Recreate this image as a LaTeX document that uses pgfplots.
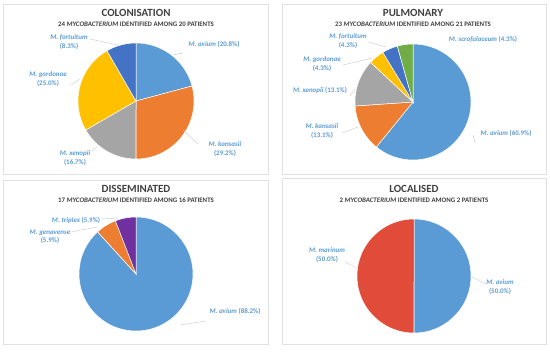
\documentclass[border=0pt]{standalone}
\usepackage{pgfplots}
\pgfplotsset{compat=1.18}
\usepackage{fontspec}
\setmainfont{Carlito}
\definecolor{cBlue}{HTML}{5B9BD5}
\definecolor{cOrange}{HTML}{ED7D31}
\definecolor{cGray}{HTML}{A5A5A5}
\definecolor{cGold}{HTML}{FFC000}
\definecolor{cDBlue}{HTML}{4472C4}
\definecolor{cGreen}{HTML}{70AD47}
\definecolor{cPurple}{HTML}{7030A0}
\definecolor{cRed}{HTML}{E04B3A}
\definecolor{cLab}{HTML}{5B9BD5}
\definecolor{cTitle}{HTML}{404040}
\definecolor{cFrame}{HTML}{E0E0E0}
% slice: center x, center y, radius, end angle, start angle, colour
\newcommand{\slice}[6]{%
  \addplot[fill=#6, draw=white, line width=0.5bp, domain=#4:#5, samples=80, variable=\t]
    ({#1+#3*cos(t)},{#2+#3*sin(t)}) -- (axis cs:#1,#2) -- cycle;}
\tikzset{lab/.style={font=\fontsize{7}{8.5}\selectfont\bfseries, text=cLab, align=center, inner sep=0pt},
  ttl/.style={font=\fontsize{11}{12}\selectfont\bfseries, text=cTitle, inner sep=0pt},
  sub/.style={font=\fontsize{6.9}{8}\selectfont\bfseries, text=cTitle, inner sep=0pt},
  lead/.style={draw=gray!45, line width=0.4bp}}
\begin{document}
\begin{tikzpicture}
\useasboundingbox (0,0) rectangle (550bp,352bp);
\begin{axis}[at={(0,0)}, anchor=south west, x=1bp, y=1bp, scale only axis,
  xmin=0, xmax=550, ymin=0, ymax=352, hide axis, clip=false]
% frames
\draw[cFrame, line width=0.6bp] (axis cs:3,178) rectangle (axis cs:268,348);
\draw[cFrame, line width=0.6bp] (axis cs:282,178) rectangle (axis cs:546,348);
\draw[cFrame, line width=0.6bp] (axis cs:3,8) rectangle (axis cs:268,172);
\draw[cFrame, line width=0.6bp] (axis cs:282,8) rectangle (axis cs:546,174);

% ---- COLONISATION: 24 isolates: avium 5, kansasii 7, xenopii 4, gordonae 6, fortuitum 2
\slice{136}{251}{58}{15}{90}{cBlue}
\slice{136}{251}{58}{-90}{15}{cOrange}
\slice{136}{251}{58}{-150}{-90}{cGray}
\slice{136}{251}{58}{-240}{-150}{cGold}
\slice{136}{251}{58}{-270}{-240}{cDBlue}
\node[ttl] at (axis cs:136,339) {COLONISATION};
\node[sub] at (axis cs:136,328) {24 \textit{MYCOBACTERIUM} IDENTIFIED AMONG 20 PATIENTS};
\node[lab] at (axis cs:69,310) {\textit{M. fortuitum}\\(8.3\%)};
\draw[lead] (axis cs:90,313) -- (axis cs:118,307);
\node[lab] at (axis cs:48,273) {\textit{M. gordonae}\\(25.0\%)};
\draw[lead] (axis cs:71,267) -- (axis cs:80,273);
\node[lab] at (axis cs:214,308) {\textit{M. avium} (20.8\%)};
\draw[lead] (axis cs:173,297) -- (axis cs:183,299);
\node[lab] at (axis cs:225,203) {\textit{M. kansasii}\\(29.2\%)};
\draw[lead] (axis cs:183,222) -- (axis cs:198,208);
\node[lab] at (axis cs:75,194) {\textit{M. xenopii}\\(16.7\%)};
\draw[lead] (axis cs:92,201) -- (axis cs:97,205);

% ---- PULMONARY: 23 isolates: avium 14, kansasii 3, xenopii 3, gordonae 1, fortuitum 1, scrofulaceum 1
\slice{413}{250}{58}{-129.13}{90}{cBlue}
\slice{413}{250}{58}{-176.09}{-129.13}{cOrange}
\slice{413}{250}{58}{-223.04}{-176.09}{cGray}
\slice{413}{250}{58}{-238.70}{-223.04}{cGold}
\slice{413}{250}{58}{-254.35}{-238.70}{cDBlue}
\slice{413}{250}{58}{-270}{-254.35}{cGreen}
\node[ttl] at (axis cs:413,339) {PULMONARY};
\node[sub] at (axis cs:413,328) {23 \textit{MYCOBACTERIUM} IDENTIFIED AMONG 21 PATIENTS};
\node[lab] at (axis cs:348,311) {\textit{M. fortuitum}\\(4.3\%)};
\draw[lead] (axis cs:368,310) -- (axis cs:386,305);
\node[lab] at (axis cs:322,288) {\textit{M. gordonae}\\(4.3\%)};
\draw[lead] (axis cs:343,287) -- (axis cs:372,294);
\node[lab] at (axis cs:320,262) {\textit{M. xenopii} (13.1\%)};
\draw[lead] (axis cs:350,256) -- (axis cs:355,263);
\node[lab] at (axis cs:322,221) {\textit{M. kansasii}\\(13.1\%)};
\draw[lead] (axis cs:342,219) -- (axis cs:358,225);
\node[lab] at (axis cs:483,313) {\textit{M. scrofulaceum} (4.3\%)};
\node[lab] at (axis cs:506,219) {\textit{M. avium} (60.9\%)};
\draw[lead] (axis cs:473,217) -- (axis cs:475,209);

% ---- DISSEMINATED: 17 isolates: avium 15, genavense 1, triplex 1
\slice{136}{78}{57}{-227.65}{90}{cBlue}
\slice{136}{78}{57}{-248.82}{-227.65}{cOrange}
\slice{136}{78}{57}{-270}{-248.82}{cPurple}
\node[ttl] at (axis cs:136,163) {DISSEMINATED};
\node[sub] at (axis cs:136,152) {17 \textit{MYCOBACTERIUM} IDENTIFIED AMONG 16 PATIENTS};
\node[lab] at (axis cs:76,132) {\textit{M. triplex} (5.9\%)};
\draw[lead] (axis cs:101,133) -- (axis cs:118,134);
\node[lab] at (axis cs:50,115) {\textit{M. genavense}\\(5.9\%)};
\draw[lead] (axis cs:71,120) -- (axis cs:97,125);
\node[lab] at (axis cs:235,41) {\textit{M. avium} (88.2\%)};
\draw[lead] (axis cs:180,27) -- (axis cs:206,31);

% ---- LOCALISED: 2 isolates: avium 1, marinum 1
\slice{414}{76}{57}{-90}{90}{cBlue}
\slice{414}{76}{57}{-270}{-90}{cRed}
\node[ttl] at (axis cs:414,163) {LOCALISED};
\node[sub] at (axis cs:414,152) {2 \textit{MYCOBACTERIUM} IDENTIFIED AMONG 2 PATIENTS};
\node[lab] at (axis cs:327,97) {\textit{M. marinum}\\(50.0\%)};
\draw[lead] (axis cs:345,90) -- (axis cs:357,84);
\node[lab] at (axis cs:500,65) {\textit{M. avium}\\(50.0\%)};
\draw[lead] (axis cs:472,75) -- (axis cs:486,68);
\end{axis}
\end{tikzpicture}
\end{document}
